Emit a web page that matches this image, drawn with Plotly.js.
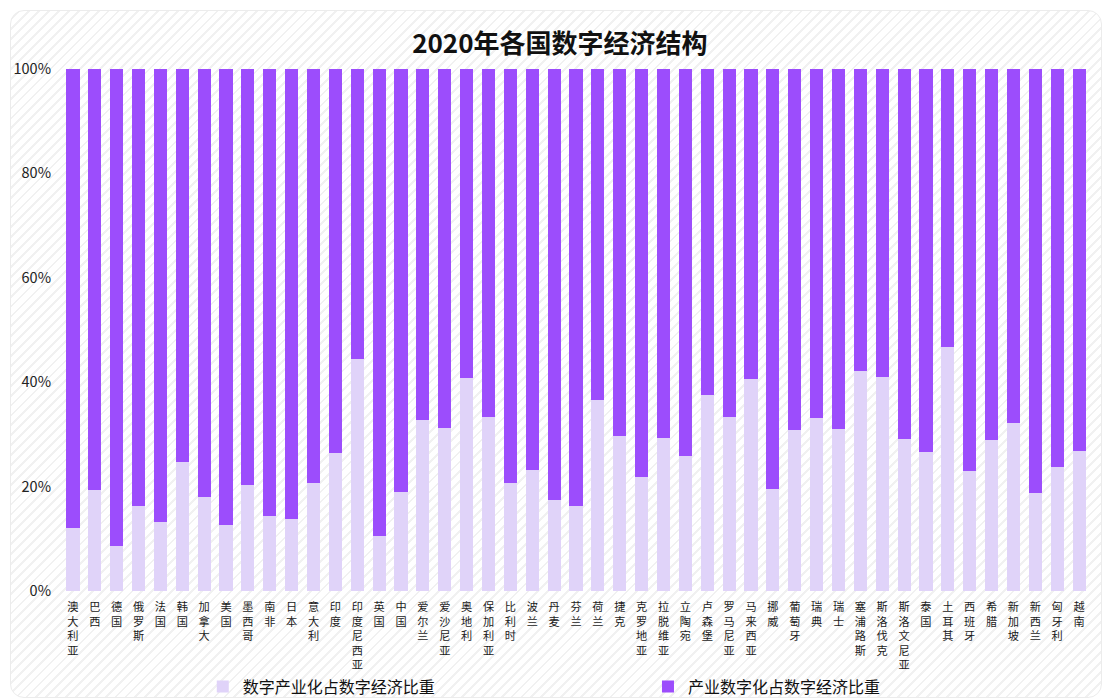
<!DOCTYPE html>
<html><head><meta charset="utf-8">
<script src="https://cdn.plot.ly/plotly-3.0.1.min.js"></script>
<style>
html,body{margin:0;padding:0;background:#fff;}
#card{position:absolute;left:10px;top:10px;width:1090px;height:686px;border:1px solid #ececec;border-radius:14px;
background:repeating-linear-gradient(135deg,#ffffff 0px,#ffffff 5px,#f1f1f1 5px,#f1f1f1 7px);}
#chart{position:absolute;left:0;top:0;width:1102px;height:700px;}
</style></head>
<body><div id="card"></div><div id="chart"></div>
<script>
const countries = ["澳大利亚","巴西","德国","俄罗斯","法国","韩国","加拿大","美国","墨西哥","南非","日本","意大利","印度","印度尼西亚","英国","中国","爱尔兰","爱沙尼亚","奥地利","保加利亚","比利时","波兰","丹麦","芬兰","荷兰","捷克","克罗地亚","拉脱维亚","立陶宛","卢森堡","罗马尼亚","马来西亚","挪威","葡萄牙","瑞典","瑞士","塞浦路斯","斯洛伐克","斯洛文尼亚","泰国","土耳其","西班牙","希腊","新加坡","新西兰","匈牙利","越南"];
const digitalIndustry = [12.1,19.3,8.6,16.3,13.3,24.7,18.0,12.6,20.3,14.4,13.8,20.7,26.5,44.5,10.5,18.9,32.7,31.3,40.8,33.4,20.7,23.1,17.5,16.3,36.6,29.6,21.9,29.3,25.9,37.5,33.4,40.6,19.6,30.8,33.1,31.0,42.1,41.0,29.2,26.6,46.8,22.9,29.0,32.2,18.7,23.8,26.9];
const industryDigital = digitalIndustry.map(v => +(100 - v).toFixed(1));
const seriesNames = ["数字产业化占数字经济比重","产业数字化占数字经济比重"];
const yTickVals = [0,20,40,60,80,100];
const yTickText = ["0%","20%","40%","60%","80%","100%"];

const vertical = countries.map(c => c.split("").join("<br>"));
const font = "'Noto Sans CJK SC','Noto Sans',sans-serif";

const traces = [
  {type:"bar", name:seriesNames[0], x:countries, y:digitalIndustry, marker:{color:"#e0d3f9"}, legend:"legend"},
  {type:"bar", name:seriesNames[1], x:countries, y:industryDigital, marker:{color:"#9c4dfc"}, legend:"legend2"}
];
const legendBase = {orientation:"h", xref:"container", yref:"container", y:0.019, yanchor:"middle", xanchor:"left",
  font:{family:font, size:16, color:"#111"}, bgcolor:"rgba(0,0,0,0)"};
const layout = {
  width:1102, height:700,
  paper_bgcolor:"rgba(0,0,0,0)", plot_bgcolor:"rgba(0,0,0,0)",
  barmode:"stack", bargap:0.4,
  margin:{l:62, r:12, t:69, b:109, autoexpand:false},
  title:{text:"<b>2020年各国数字经济结构</b>", x:0.508, xanchor:"center", y:0.938, yanchor:"middle", font:{family:font, size:26, color:"#111"}},
  font:{family:font, color:"#222"},
  xaxis:{tickmode:"array", tickvals:countries, ticktext:vertical, tickangle:0, tickfont:{size:11.2, color:"#1a1a1a"}, showline:false, showgrid:false, ticks:"", automargin:false, ticklabelstandoff:8},
  yaxis:{range:[0,100], tickmode:"array", tickvals:yTickVals, ticktext:yTickText, showgrid:false, zeroline:false, tickfont:{size:14.5, color:"#222"}, ticks:"", automargin:false, ticklabelstandoff:10},
  showlegend:true,
  legend:Object.assign({}, legendBase, {x:0.184}),
  legend2:Object.assign({}, legendBase, {x:0.588})
};
Plotly.newPlot("chart", traces, layout, {displayModeBar:false, staticPlot:true});
</script></body></html>
